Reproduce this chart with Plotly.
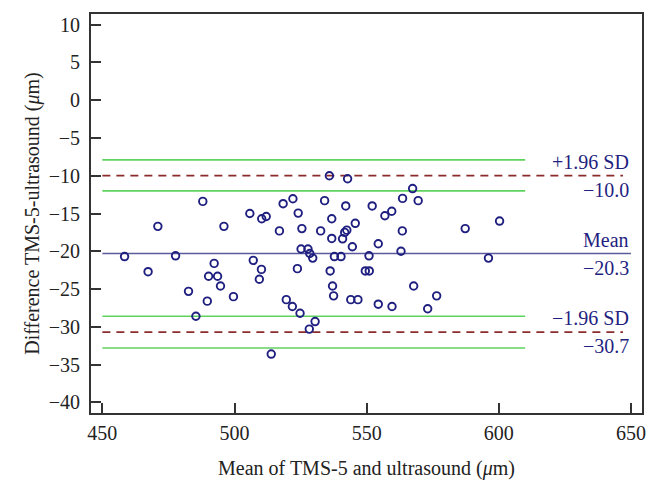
import plotly.graph_objects as go

# Bland-Altman data: mean of the two methods (x) and their difference (y)
mean_vals = [458.4, 467.3, 471.0, 477.7, 482.6, 485.4, 488.0, 489.7, 490.2, 492.3,
             493.6, 494.7, 496.0, 499.6, 505.8, 507.1, 509.4, 510.2, 510.3, 512.0,
             513.9, 517.0, 518.4, 519.6, 521.9, 522.1, 523.8, 524.1, 524.8, 525.2,
             525.5, 527.8, 528.5, 528.3, 529.6, 530.5, 532.6, 534.1, 535.9, 536.2,
             536.8, 536.8, 537.1, 537.5, 537.8, 540.3, 540.9, 541.7, 542.5, 542.1,
             542.8, 544.0, 544.6, 545.7, 546.7, 549.5, 550.9, 551.0, 552.1, 554.4,
             554.4, 556.9, 559.5, 559.6, 563.0, 563.5, 563.6, 567.4, 567.8, 569.5,
             573.1, 576.5, 587.3, 596.1, 600.3]
diff_vals = [-20.7, -22.7, -16.7, -20.6, -25.3, -28.6, -13.4, -26.6, -23.3, -21.6,
             -23.3, -24.6, -16.7, -26.0, -15.0, -21.2, -23.7, -22.4, -15.7, -15.4,
             -33.6, -17.3, -13.7, -26.4, -27.3, -13.05, -22.3, -14.95, -28.2, -19.7,
             -17.0, -19.7, -20.3, -30.3, -20.9, -29.3, -17.3, -13.3, -10.0, -22.6,
             -15.7, -18.3, -24.6, -25.9, -20.7, -20.7, -18.35, -17.5, -17.2, -14.0,
             -10.4, -26.4, -19.4, -16.3, -26.4, -22.6, -20.6, -22.6, -14.0, -19.0,
             -27.0, -15.3, -14.7, -27.3, -20.0, -17.3, -13.0, -11.7, -24.6, -13.3,
             -27.6, -25.9, -17.0, -20.9, -16.0]

mean_diff = -20.3
upper_loa = -10.0
lower_loa = -30.7
upper_ci = [-7.9, -12.0]
lower_ci = [-28.6, -32.8]

x_ticks = [450, 500, 550, 600, 650]
y_ticks = [10, 5, 0, -5, -10, -15, -20, -25, -30, -35, -40]

ci_x = [450, 610]
loa_x = [450, 647]
mean_x = [450, 650]

navy = "#1f1f80"
green = "#5fd35f"
darkred = "#8b2b2b"
slate = "#5a5a9c"
font_family = "Liberation Serif, Times New Roman, serif"

fig = go.Figure()

for v in upper_ci + lower_ci:
    fig.add_trace(go.Scatter(x=ci_x, y=[v, v], mode="lines",
                             line=dict(color=green, width=1.6), hoverinfo="skip"))
for v in [upper_loa, lower_loa]:
    fig.add_trace(go.Scatter(x=loa_x, y=[v, v], mode="lines",
                             line=dict(color=darkred, width=1.8, dash="8px,6px"), hoverinfo="skip"))
fig.add_trace(go.Scatter(x=mean_x, y=[mean_diff, mean_diff], mode="lines",
                         line=dict(color=slate, width=1.6), hoverinfo="skip"))

fig.add_trace(go.Scatter(x=mean_vals, y=diff_vals, mode="markers",
                         marker=dict(symbol="circle-open", size=7.5, color=navy,
                                     line=dict(width=1.9, color=navy))))

labels = [("+1.96 SD", upper_loa, "bottom"), ("\u221210.0", upper_loa, "top"),
          ("Mean", mean_diff, "bottom"), ("\u221220.3", mean_diff, "top"),
          ("\u22121.96 SD", lower_loa, "bottom"), ("\u221230.7", lower_loa, "top")]
for txt, yv, pos in labels:
    fig.add_annotation(x=650, y=yv, text=txt, showarrow=False, xanchor="right",
                       yanchor=pos, yshift=1 if pos == "bottom" else -1,
                       font=dict(family=font_family, size=20, color=navy))

axis_common = dict(showline=True, linecolor="#333333", linewidth=2, mirror=True,
                   ticks="inside", ticklen=10, tickwidth=1.5, tickcolor="#333333",
                   showgrid=False, zeroline=False, automargin=False,
                   tickfont=dict(family=font_family, size=20, color="#222222"))

fig.update_xaxes(range=[445.7, 654.2], tickvals=x_ticks, ticklabelstandoff=1,
                 title=dict(text="Mean of TMS-5 and ultrasound (<i>\u03bc</i>m)",
                            font=dict(family=font_family, size=20, color="#222222"),
                            standoff=18),
                 **axis_common)
fig.update_yaxes(range=[-41.4, 11.4], tickvals=y_ticks, ticklabelstandoff=5,
                 title=dict(text="Difference TMS-5-ultrasound (<i>\u03bc</i>m)",
                            font=dict(family=font_family, size=20, color="#222222"),
                            standoff=4),
                 **axis_common)

# the page body has an 8px default margin, so the figure is sized to fit inside it
fig.update_layout(width=650, height=481, showlegend=False,
                  plot_bgcolor="white", paper_bgcolor="white",
                  margin=dict(l=83, r=16, t=6, b=76))

fig.write_html("out.html")
